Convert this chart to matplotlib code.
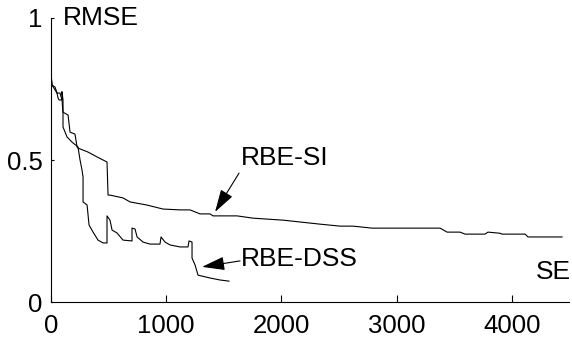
import matplotlib
matplotlib.use("Agg")
import matplotlib.pyplot as plt

plt.rcParams['font.family'] = ['Liberation Sans', 'DejaVu Sans']

# RBE-SI curve (SE, RMSE)
si_x = [0, 9, 35, 52, 78, 95, 104, 148, 165, 208, 226, 234, 321, 399, 486, 495,
        512, 625, 686, 833, 972, 1120, 1207, 1293, 1380, 1406, 1615, 1753, 2014,
        2335, 2509, 2622, 2786, 2856, 3073, 3377, 3438, 3550, 3594, 3767, 3793,
        3898, 3915, 4115, 4141, 4436]
si_y = [0.805, 0.763, 0.756, 0.735, 0.735, 0.711, 0.668, 0.658, 0.598, 0.591,
        0.546, 0.542, 0.528, 0.511, 0.493, 0.377, 0.377, 0.367, 0.353, 0.342,
        0.328, 0.325, 0.325, 0.311, 0.311, 0.304, 0.304, 0.296, 0.289, 0.275,
        0.268, 0.268, 0.261, 0.261, 0.261, 0.261, 0.247, 0.247, 0.240, 0.240,
        0.247, 0.243, 0.240, 0.240, 0.230, 0.230]

# RBE-DSS curve
dss_x = [0, 9, 35, 52, 61, 69, 95, 95, 104, 104, 139, 182, 234, 252, 269, 278,
         278, 313, 330, 365, 408, 451, 486, 486, 512, 530, 573, 625, 703, 703,
         729, 747, 799, 859, 946, 955, 990, 1033, 1120, 1189, 1198, 1224, 1224,
         1250, 1276, 1380, 1467, 1545]
dss_y = [0.798, 0.763, 0.746, 0.735, 0.718, 0.711, 0.711, 0.740, 0.711, 0.616,
         0.581, 0.563, 0.546, 0.500, 0.465, 0.440, 0.353, 0.342, 0.272, 0.247,
         0.219, 0.209, 0.209, 0.304, 0.289, 0.254, 0.244, 0.219, 0.216, 0.261,
         0.258, 0.230, 0.212, 0.205, 0.205, 0.230, 0.212, 0.202, 0.195, 0.195,
         0.216, 0.212, 0.156, 0.132, 0.096, 0.086, 0.079, 0.075]

x_ticks = [0, 1000, 2000, 3000, 4000]
y_ticks = [0, 0.5, 1]
y_ticklabels = ['0', '0.5', '1']

fig = plt.figure(figsize=(5.72, 3.4), dpi=100)
ax = fig.add_axes([0.0892, 0.1103, 0.9063, 0.838])

ax.plot(si_x, si_y, color='black', linewidth=0.8)
ax.plot(dss_x, dss_y, color='black', linewidth=0.8)

ax.set_xlim(0, 4500)
ax.set_ylim(0, 1)
ax.set_xticks(x_ticks)
ax.set_yticks(y_ticks)
ax.set_yticklabels(y_ticklabels)
ax.spines['top'].set_visible(False)
ax.spines['right'].set_visible(False)
ax.tick_params(axis='both', direction='in', labelsize=18.5, width=0.8)
ax.tick_params(axis='x', length=5, pad=8)
ax.tick_params(axis='y', length=2.5, pad=6)

ax.text(104, 1.0, 'RMSE', fontsize=19, ha='left', va='center')
ax.text(4210, 0.107, 'SE', fontsize=19, ha='left', va='center')

# curve labels
ax.text(1649, 0.482, 'RBE-SI', fontsize=19, ha='left', va='baseline')
ax.text(1649, 0.152, 'RBE-DSS', fontsize=19, ha='left', va='center')

arrow = dict(arrowstyle='-|>,head_length=1.4,head_width=0.42', color='black',
             linewidth=0.8, shrinkA=0, shrinkB=0)
ax.annotate('', xy=(1424, 0.318), xytext=(1632, 0.454), arrowprops=arrow)
ax.annotate('', xy=(1311, 0.125), xytext=(1641, 0.146), arrowprops=arrow)

fig.savefig('out.png', dpi=100)
